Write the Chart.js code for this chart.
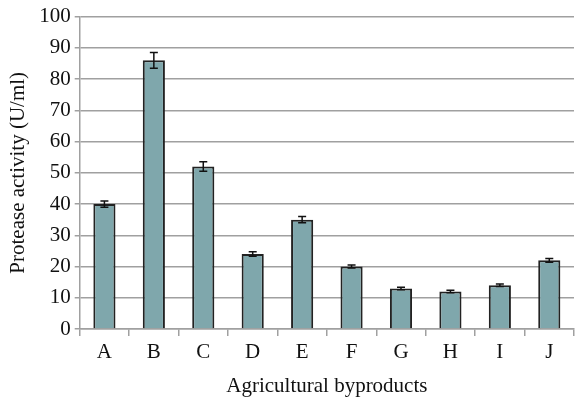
<!DOCTYPE html>
<html>
<head>
<meta charset="utf-8">
<script src="https://cdn.jsdelivr.net/npm/chart.js"></script>
<style>
  html, body { margin: 0; padding: 0; background: #fff; }
  #wrap { width: 576px; height: 400px; }
</style>
</head>
<body>
<div id="wrap"><canvas id="chart"></canvas></div>
<script>
const categories = ['A', 'B', 'C', 'D', 'E', 'F', 'G', 'H', 'I', 'J'];
const activity = [40, 86, 52, 24, 35, 20, 13, 12, 14, 22];
const errors = [1, 2.5, 1.5, 0.7, 1, 0.5, 0.4, 0.4, 0.4, 0.6];
const yTicks = [0, 10, 20, 30, 40, 50, 60, 70, 80, 90, 100];

// draws the error whiskers on top of each bar
const errorBars = {
  id: 'errorBars',
  afterDatasetsDraw(chart) {
    const ctx = chart.ctx;
    const y = chart.scales.y;
    const meta = chart.getDatasetMeta(0);
    ctx.save();
    ctx.strokeStyle = '#111';
    ctx.lineWidth = 1.5;
    meta.data.forEach((bar, i) => {
      const top = y.getPixelForValue(activity[i] + errors[i]);
      const bot = y.getPixelForValue(activity[i] - errors[i]);
      const x = bar.x;
      ctx.beginPath();
      ctx.moveTo(x, top); ctx.lineTo(x, bot);
      ctx.moveTo(x - 4, top); ctx.lineTo(x + 4, top);
      ctx.moveTo(x - 4, bot); ctx.lineTo(x + 4, bot);
      ctx.stroke();
    });
    ctx.restore();
  }
};

const font = { family: '"Liberation Serif", "Times New Roman", serif', size: 21 };

new Chart(document.getElementById('chart'), {
  type: 'bar',
  data: {
    labels: categories,
    datasets: [{
      data: activity,
      backgroundColor: '#7fa7ac',
      borderColor: '#222',
      borderWidth: 2,
      barPercentage: 0.8,
      categoryPercentage: 0.56
    }]
  },
  options: {
    responsive: true,
    maintainAspectRatio: false,
    animation: false,
    layout: { padding: { top: 7, right: 2, left: 4, bottom: 0 } },
    plugins: {
      legend: { display: false },
      tooltip: { enabled: false }
    },
    scales: {
      x: {
        offset: true,
        afterFit(scale) { scale.height = 71; },
        grid: { offset: true, drawOnChartArea: false, drawTicks: true, tickLength: 7, color: '#a0a0a0', lineWidth: 1.5 },
        border: { color: '#a0a0a0', width: 1.5 },
        ticks: { color: '#111', font: font, padding: 4 },
        title: { display: true, text: 'Agricultural byproducts', color: '#111', font: font, padding: { top: 2, bottom: 1 } }
      },
      y: {
        min: 0,
        max: 100,
        afterBuildTicks(axis) { axis.ticks = yTicks.map(v => ({ value: v })); },
        grid: { color: '#a0a0a0', lineWidth: 1.5, tickLength: 5 },
        border: { color: '#a0a0a0', width: 1.5 },
        ticks: { color: '#111', font: font, padding: 4 },
        title: { display: true, text: 'Protease activity (U/ml)', color: '#111', font: font, padding: { top: 2, bottom: 4 } }
      }
    }
  },
  plugins: [errorBars]
});
</script>
</body>
</html>
